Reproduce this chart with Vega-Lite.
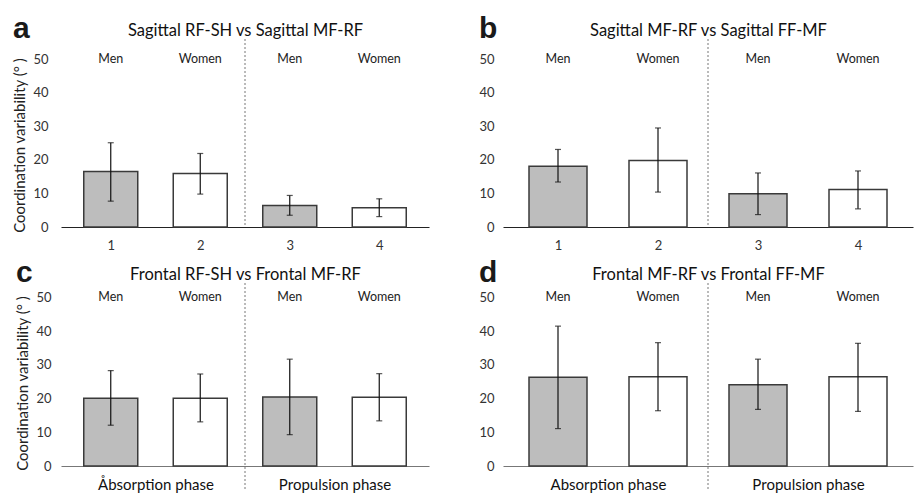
{
  "$schema": "https://vega.github.io/schema/vega-lite/v6.json",
  "background": "white",
  "padding": {"left": 12, "top": 14, "right": 2, "bottom": 2},
  "config": {
    "font": "Lato",
    "view": {"stroke": null},
    "axisY": {"tickCount": 6, "ticks": false, "domain": false, "grid": false, "labelFontSize": 13, "labelColor": "#333", "titleFontSize": 15, "titleFontWeight": "normal", "titleColor": "#222", "titlePadding": 5, "titleLimit": 400}
  },
  "datasets": {
    "a": [
      {"pos": 1, "sex": "Men", "mean": 16.5, "lo": 7.7, "hi": 25.1},
      {"pos": 2, "sex": "Women", "mean": 15.9, "lo": 9.8, "hi": 21.9},
      {"pos": 3, "sex": "Men", "mean": 6.4, "lo": 3.5, "hi": 9.4},
      {"pos": 4, "sex": "Women", "mean": 5.7, "lo": 3.1, "hi": 8.4}
    ],
    "b": [
      {"pos": 1, "sex": "Men", "mean": 18.1, "lo": 13.4, "hi": 23.1},
      {"pos": 2, "sex": "Women", "mean": 19.8, "lo": 10.4, "hi": 29.5},
      {"pos": 3, "sex": "Men", "mean": 9.9, "lo": 3.7, "hi": 16.1},
      {"pos": 4, "sex": "Women", "mean": 11.2, "lo": 5.4, "hi": 16.7}
    ],
    "c": [
      {"pos": 1, "sex": "Men", "mean": 20.1, "lo": 12.1, "hi": 28.3},
      {"pos": 2, "sex": "Women", "mean": 20.1, "lo": 13.1, "hi": 27.3},
      {"pos": 3, "sex": "Men", "mean": 20.5, "lo": 9.3, "hi": 31.7},
      {"pos": 4, "sex": "Women", "mean": 20.4, "lo": 13.4, "hi": 27.4}
    ],
    "d": [
      {"pos": 1, "sex": "Men", "mean": 26.3, "lo": 11.1, "hi": 41.5},
      {"pos": 2, "sex": "Women", "mean": 26.5, "lo": 16.4, "hi": 36.6},
      {"pos": 3, "sex": "Men", "mean": 24.1, "lo": 16.8, "hi": 31.7},
      {"pos": 4, "sex": "Women", "mean": 26.5, "lo": 16.2, "hi": 36.4}
    ],
    "one": [{}]
  },
  "vconcat": [
    {
      "hconcat": [
        {
          "width": 368, "height": 188,
          "title": {"text": "a", "anchor": "start", "frame": "bounds", "font": "Liberation Sans", "fontSize": 30, "fontWeight": "bold", "color": "#1a1a1a", "offset": -22},
          "data": {"name": "a"},
          "layer": [
            {"mark": {"type": "bar", "width": 54, "stroke": "#3a3a3a", "strokeWidth": 1.5},
             "encoding": {
               "x": {"field": "pos", "type": "quantitative", "scale": {"domain": [0.5, 4.5], "nice": false, "zero": false}, "axis": {"values": [1, 2, 3, 4], "format": "d", "ticks": false, "grid": false, "domainColor": "#222", "domainWidth": 1.2, "labelFontSize": 13, "labelPadding": 12, "labelColor": "#333", "title": null}},
               "y": {"field": "mean", "type": "quantitative", "scale": {"domain": [0, 56], "nice": false}, "axis": {"labelPadding": 13, "title": "Coordination variability (°  )", "titleY": 106}},
               "fill": {"field": "sex", "type": "nominal", "scale": {"domain": ["Men", "Women"], "range": ["#bdbdbd", "#ffffff"]}, "legend": null}}},
            {"mark": {"type": "rule", "color": "#111", "strokeWidth": 1.2},
             "encoding": {"x": {"field": "pos", "type": "quantitative", "axis": null}, "y": {"field": "lo", "type": "quantitative"}, "y2": {"field": "hi"}}},
            {"mark": {"type": "tick", "orient": "horizontal", "color": "#111", "size": 6, "thickness": 1.2},
             "encoding": {"x": {"field": "pos", "type": "quantitative", "axis": null}, "y": {"field": "lo", "type": "quantitative"}}},
            {"mark": {"type": "tick", "orient": "horizontal", "color": "#111", "size": 6, "thickness": 1.2},
             "encoding": {"x": {"field": "pos", "type": "quantitative", "axis": null}, "y": {"field": "hi", "type": "quantitative"}}},
            {"mark": {"type": "text", "fontSize": 12.5, "color": "#222"},
             "encoding": {"x": {"field": "pos", "type": "quantitative", "axis": null}, "y": {"datum": 50, "type": "quantitative"}, "text": {"field": "sex"}}},
            {"data": {"name": "one"},
             "mark": {"type": "rule", "strokeDash": [2, 2], "color": "#777", "strokeWidth": 1},
             "encoding": {"x": {"datum": 2.5, "type": "quantitative", "axis": {"orient": "top", "labels": false, "ticks": false, "domain": false, "grid": false, "title": "Sagittal RF-SH vs Sagittal MF-RF", "titleFontSize": 16.5, "titleFontWeight": "normal", "titleColor": "#111", "titlePadding": 1}}}}
          ],
          "resolve": {"axis": {"x": "independent"}}
        },
        {
          "width": 410, "height": 188,
          "title": {"text": "b", "anchor": "start", "frame": "bounds", "font": "Liberation Sans", "fontSize": 30, "fontWeight": "bold", "color": "#1a1a1a", "offset": -22},
          "data": {"name": "b"},
          "layer": [
            {"mark": {"type": "bar", "width": 58, "stroke": "#3a3a3a", "strokeWidth": 1.5},
             "encoding": {
               "x": {"field": "pos", "type": "quantitative", "scale": {"domain": [0.5, 4.5], "nice": false, "zero": false}, "axis": {"values": [1, 2, 3, 4], "format": "d", "ticks": false, "grid": false, "domainColor": "#222", "domainWidth": 1.2, "labelFontSize": 13, "labelPadding": 12, "labelColor": "#333", "title": null}},
               "y": {"field": "mean", "type": "quantitative", "scale": {"domain": [0, 56], "nice": false}, "axis": {"labelPadding": 9, "title": null}},
               "fill": {"field": "sex", "type": "nominal", "scale": {"domain": ["Men", "Women"], "range": ["#bdbdbd", "#ffffff"]}, "legend": null}}},
            {"mark": {"type": "rule", "color": "#111", "strokeWidth": 1.2},
             "encoding": {"x": {"field": "pos", "type": "quantitative", "axis": null}, "y": {"field": "lo", "type": "quantitative"}, "y2": {"field": "hi"}}},
            {"mark": {"type": "tick", "orient": "horizontal", "color": "#111", "size": 6, "thickness": 1.2},
             "encoding": {"x": {"field": "pos", "type": "quantitative", "axis": null}, "y": {"field": "lo", "type": "quantitative"}}},
            {"mark": {"type": "tick", "orient": "horizontal", "color": "#111", "size": 6, "thickness": 1.2},
             "encoding": {"x": {"field": "pos", "type": "quantitative", "axis": null}, "y": {"field": "hi", "type": "quantitative"}}},
            {"mark": {"type": "text", "fontSize": 12.5, "color": "#222"},
             "encoding": {"x": {"field": "pos", "type": "quantitative", "axis": null}, "y": {"datum": 50, "type": "quantitative"}, "text": {"field": "sex"}}},
            {"data": {"name": "one"},
             "mark": {"type": "rule", "strokeDash": [2, 2], "color": "#777", "strokeWidth": 1},
             "encoding": {"x": {"datum": 2.5, "type": "quantitative", "axis": {"orient": "top", "labels": false, "ticks": false, "domain": false, "grid": false, "title": "Sagittal MF-RF vs Sagittal FF-MF", "titleFontSize": 16.5, "titleFontWeight": "normal", "titleColor": "#111", "titlePadding": 1}}}}
          ],
          "resolve": {"axis": {"x": "independent"}}
        }
      ],
      "spacing": 49
    },
    {
      "hconcat": [
        {
          "width": 368, "height": 183,
          "title": {"text": "c", "anchor": "start", "frame": "bounds", "font": "Liberation Sans", "fontSize": 30, "fontWeight": "bold", "color": "#1a1a1a", "offset": -22},
          "data": {"name": "c"},
          "layer": [
            {"mark": {"type": "bar", "width": 54, "stroke": "#3a3a3a", "strokeWidth": 1.5},
             "encoding": {
               "x": {"field": "pos", "type": "quantitative", "scale": {"domain": [0.5, 4.5], "nice": false, "zero": false}, "axis": {"values": [1.5, 3.5], "labelExpr": "datum.value < 2 ? 'Åbsorption phase' : 'Propulsion phase'", "ticks": false, "grid": false, "domainColor": "#777", "domainWidth": 1.2, "labelFontSize": 15, "labelPadding": 11, "labelColor": "#111", "title": null}},
               "y": {"field": "mean", "type": "quantitative", "scale": {"domain": [0, 54.3], "nice": false}, "axis": {"labelPadding": 10, "title": "Coordination variability (°  )", "titleY": 100}},
               "fill": {"field": "sex", "type": "nominal", "scale": {"domain": ["Men", "Women"], "range": ["#bdbdbd", "#ffffff"]}, "legend": null}}},
            {"mark": {"type": "rule", "color": "#111", "strokeWidth": 1.2},
             "encoding": {"x": {"field": "pos", "type": "quantitative", "axis": null}, "y": {"field": "lo", "type": "quantitative"}, "y2": {"field": "hi"}}},
            {"mark": {"type": "tick", "orient": "horizontal", "color": "#111", "size": 6, "thickness": 1.2},
             "encoding": {"x": {"field": "pos", "type": "quantitative", "axis": null}, "y": {"field": "lo", "type": "quantitative"}}},
            {"mark": {"type": "tick", "orient": "horizontal", "color": "#111", "size": 6, "thickness": 1.2},
             "encoding": {"x": {"field": "pos", "type": "quantitative", "axis": null}, "y": {"field": "hi", "type": "quantitative"}}},
            {"mark": {"type": "text", "fontSize": 12.5, "color": "#222"},
             "encoding": {"x": {"field": "pos", "type": "quantitative", "axis": null}, "y": {"datum": 50, "type": "quantitative"}, "text": {"field": "sex"}}},
            {"data": {"name": "one"},
             "mark": {"type": "rule", "strokeDash": [2, 2], "color": "#777", "strokeWidth": 1},
             "encoding": {"x": {"datum": 2.5, "type": "quantitative", "axis": {"orient": "top", "labels": false, "ticks": false, "domain": false, "grid": false, "title": "Frontal RF-SH vs Frontal MF-RF", "titleFontSize": 16.5, "titleFontWeight": "normal", "titleColor": "#111", "titlePadding": 1}},
               "y": {"datum": 54.3, "type": "quantitative"}, "y2": {"datum": -7.1}}}
          ],
          "resolve": {"axis": {"x": "independent"}}
        },
        {
          "width": 410, "height": 183,
          "title": {"text": "d", "anchor": "start", "frame": "bounds", "font": "Liberation Sans", "fontSize": 30, "fontWeight": "bold", "color": "#1a1a1a", "offset": -22},
          "data": {"name": "d"},
          "layer": [
            {"mark": {"type": "bar", "width": 58, "stroke": "#3a3a3a", "strokeWidth": 1.5},
             "encoding": {
               "x": {"field": "pos", "type": "quantitative", "scale": {"domain": [0.5, 4.5], "nice": false, "zero": false}, "axis": {"values": [1.5, 3.5], "labelExpr": "datum.value < 2 ? 'Absorption phase' : 'Propulsion phase'", "ticks": false, "grid": false, "domainColor": "#777", "domainWidth": 1.2, "labelFontSize": 15, "labelPadding": 11, "labelColor": "#111", "title": null}},
               "y": {"field": "mean", "type": "quantitative", "scale": {"domain": [0, 54.3], "nice": false}, "axis": {"labelPadding": 9, "title": null}},
               "fill": {"field": "sex", "type": "nominal", "scale": {"domain": ["Men", "Women"], "range": ["#bdbdbd", "#ffffff"]}, "legend": null}}},
            {"mark": {"type": "rule", "color": "#111", "strokeWidth": 1.2},
             "encoding": {"x": {"field": "pos", "type": "quantitative", "axis": null}, "y": {"field": "lo", "type": "quantitative"}, "y2": {"field": "hi"}}},
            {"mark": {"type": "tick", "orient": "horizontal", "color": "#111", "size": 6, "thickness": 1.2},
             "encoding": {"x": {"field": "pos", "type": "quantitative", "axis": null}, "y": {"field": "lo", "type": "quantitative"}}},
            {"mark": {"type": "tick", "orient": "horizontal", "color": "#111", "size": 6, "thickness": 1.2},
             "encoding": {"x": {"field": "pos", "type": "quantitative", "axis": null}, "y": {"field": "hi", "type": "quantitative"}}},
            {"mark": {"type": "text", "fontSize": 12.5, "color": "#222"},
             "encoding": {"x": {"field": "pos", "type": "quantitative", "axis": null}, "y": {"datum": 50, "type": "quantitative"}, "text": {"field": "sex"}}},
            {"data": {"name": "one"},
             "mark": {"type": "rule", "strokeDash": [2, 2], "color": "#777", "strokeWidth": 1},
             "encoding": {"x": {"datum": 2.5, "type": "quantitative", "axis": {"orient": "top", "labels": false, "ticks": false, "domain": false, "grid": false, "title": "Frontal MF-RF vs Frontal FF-MF", "titleFontSize": 16.5, "titleFontWeight": "normal", "titleColor": "#111", "titlePadding": 1}},
               "y": {"datum": 54.3, "type": "quantitative"}, "y2": {"datum": -7.1}}}
          ],
          "resolve": {"axis": {"x": "independent"}}
        }
      ],
      "spacing": 49
    }
  ],
  "spacing": 6
}
